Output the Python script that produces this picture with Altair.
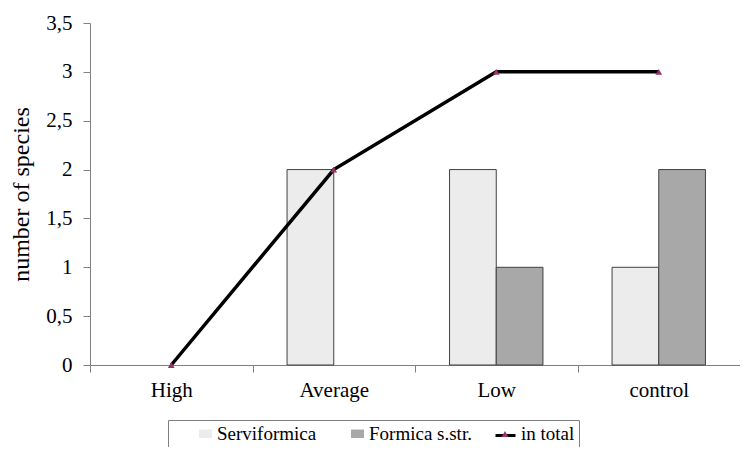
import altair as alt
import pandas as pd

categories = ["High", "Average", "Low", "control"]
series_bars = ["Serviformica", "Formica s.str."]
serviformica = [0, 2, 2, 1]
formica = [0, 0, 1, 2]
in_total = [0, 2, 3, 3]
y_ticks = [0, 0.5, 1, 1.5, 2, 2.5, 3, 3.5]

legend_domain = ["Serviformica", "Formica s.str.", "in total"]
legend_colors = ["#ececec", "#a8a8a8", "#ffffff"]

rows = []
for c, s, f in zip(categories, serviformica, formica):
    rows.append({"category": c, "series": "Serviformica", "value": s})
    rows.append({"category": c, "series": "Formica s.str.", "value": f})
bars_df = pd.DataFrame(rows)
total_df = pd.DataFrame({"category": categories, "kind": "in total",
                         "marker": "in total", "value": in_total})

FONT = "Liberation Serif"

x_enc = alt.X(
    "category:N",
    sort=categories,
    scale=alt.Scale(paddingInner=0, paddingOuter=0),
    axis=alt.Axis(
        title=None, labelAngle=0, labelFont=FONT, labelFontSize=21, labelColor="black",
        tickBand="extent", tickSize=7, labelPadding=7, domainColor="#808080",
        tickColor="#808080", grid=False,
    ),
)
y_enc = alt.Y(
    "value:Q",
    scale=alt.Scale(domain=[0, 3.5], nice=False),
    axis=alt.Axis(
        values=y_ticks, labelExpr="replace(format(datum.value, '~g'), '.', ',')", grid=False,
        labelFont=FONT, labelFontSize=21, labelColor="black", tickSize=7, labelPadding=11,
        domainColor="#808080", tickColor="#808080", title="number of species",
        titleFont=FONT, titleFontSize=24, titleFontWeight="normal", titleColor="#000000",
        titlePadding=12,
    ),
)

main_legend = alt.Legend(
    title=None, orient="none", legendX=78, legendY=397, direction="horizontal",
    columns=3, gridAlign="all",
    strokeColor="#808080", fillColor="white", padding=4, labelFont=FONT,
    labelFontSize=19, labelColor="black", symbolOffset=24, columnPadding=4,
    labelOffset=2, symbolType="M-1,-0.65H1V0.65H-1Z", symbolSize=169,
    symbolStrokeColor="#404040", symbolStrokeWidth=1,
)

bars = (
    alt.Chart(bars_df)
    .transform_filter("datum.value > 0")
    .mark_bar(stroke="#404040", strokeWidth=1)
    .encode(
        x=x_enc,
        xOffset=alt.XOffset(
            "series:N", sort=series_bars,
            scale=alt.Scale(domain=series_bars, paddingInner=0, paddingOuter=0.74),
        ),
        y=y_enc,
        color=alt.Color("series:N", scale=alt.Scale(domain=legend_domain, range=legend_colors),
                        legend=main_legend),
        opacity=alt.Opacity("series:N", scale=alt.Scale(domain=legend_domain, range=[1, 1, 0]),
                            legend=main_legend),
    )
)

line = (
    alt.Chart(total_df)
    .mark_line(strokeWidth=3.5)
    .encode(
        x=x_enc, y=y_enc,
        stroke=alt.Stroke("kind:N", scale=alt.Scale(range=["#000000"]),
                          legend=alt.Legend(title=None, orient="none", legendX=404, legendY=401,
                                            symbolType="stroke", symbolSize=400,
                                            symbolStrokeWidth=3, symbolStrokeColor="#000000",
                                            labelExpr="''", padding=0)),
    )
)

points = (
    alt.Chart(total_df)
    .mark_point(filled=True, color="#993366", size=45, opacity=1)
    .encode(
        x=x_enc, y=y_enc,
        shape=alt.Shape("marker:N", scale=alt.Scale(range=["triangle-up"]),
                        legend=alt.Legend(title=None, orient="none", legendX=410, legendY=406,
                                          symbolSize=45, symbolFillColor="#993366",
                                          symbolStrokeColor="#993366", symbolStrokeWidth=0,
                                          labelExpr="''", padding=0)),
    )
)

chart = (
    alt.layer(bars, line, points)
    .properties(
        width=650, height=342,
        autosize=alt.AutoSizeParams(type="none"),
        padding={"left": 82, "top": 15, "right": 0, "bottom": 82},
        background="white",
    )
    .configure_view(stroke=None)
    .configure_axis(labelFont=FONT, titleFont=FONT, titleColor="#000000", labelColor="#000000")
)

chart.save("out.html", embed_options={"renderer": "svg", "actions": False})
